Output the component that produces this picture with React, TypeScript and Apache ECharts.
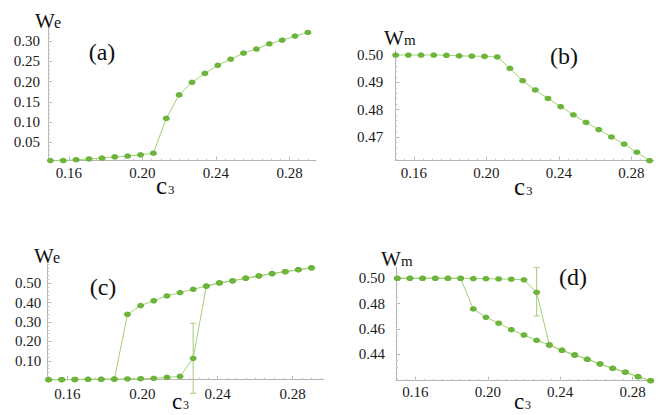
import React, { useEffect, useRef } from "react";
import * as echarts from "echarts";

// ---- data ----
const c3 = [0.150, 0.157, 0.164, 0.171, 0.178, 0.185, 0.192, 0.199, 0.206, 0.213, 0.220,
  0.227, 0.234, 0.241, 0.248, 0.255, 0.262, 0.269, 0.276, 0.283, 0.290];

// (a) We vs c3
const aWe = [0.005, 0.005, 0.007, 0.009, 0.011, 0.014, 0.016, 0.019, 0.023, 0.109, 0.167,
  0.198, 0.220, 0.240, 0.255, 0.270, 0.280, 0.293, 0.302, 0.312, 0.321];

// (b) Wm vs c3
const bWm = [0.5000, 0.5000, 0.5000, 0.5000, 0.4999, 0.4997, 0.4996, 0.4995, 0.4993, 0.4951,
  0.4906, 0.4872, 0.4841, 0.4811, 0.4781, 0.4753, 0.4727, 0.4700, 0.4674, 0.4644, 0.4613];

// (c) We: lower branch (c3 index 0..11), upper branch (c3 index 6..20)
const cWeLower = [0.003, 0.003, 0.004, 0.005, 0.005, 0.006, 0.007, 0.008, 0.010, 0.015, 0.020, 0.113];
const cWeUpper = [0.340, 0.385, 0.410, 0.435, 0.452, 0.469, 0.486, 0.502, 0.513, 0.526, 0.538,
  0.550, 0.560, 0.570, 0.580];
const cWeErr = [0.227, -0.067, 0.294]; // x, low, high

// (d) Wm: upper branch (c3 index 0..11), lower branch (c3 index 6..20)
const dWmUpper = [0.5000, 0.5000, 0.5000, 0.5000, 0.5000, 0.5000, 0.4998, 0.4997, 0.4995,
  0.4993, 0.4988, 0.4889];
const dWmLower = [0.4758, 0.4692, 0.4645, 0.4594, 0.4552, 0.4510, 0.4473, 0.4431, 0.4394,
  0.4360, 0.4323, 0.4289, 0.4258, 0.4223, 0.4191];
const dWmErr = [0.227, 0.4702, 0.5084];

// tick labels
const xTicks = [0.16, 0.20, 0.24, 0.28];
const aYTicks = [0.05, 0.10, 0.15, 0.20, 0.25, 0.30];
const bYTicks = [0.47, 0.48, 0.49, 0.50];
const cYTicks = [0.10, 0.20, 0.30, 0.40, 0.50];
const dYTicks = [0.44, 0.46, 0.48, 0.50];

const FONT = "Liberation Serif";
const AXIS = "#b4b4b4";
const DOT = "#6cb43c";
const LINE = "#a3d172";
const ERR = "#a9c77e";

const zip = (xs: number[], ys: number[]) => xs.map((x, i) => [x, ys[i]]);

const range = (a: number, b: number, s: number) => {
  const out: number[] = [];
  for (let v = a; v <= b + 1e-9; v += s) out.push(Math.round(v * 10000) / 10000);
  return out;
};

function mainAxis(gridIndex: number, min: number, max: number, ticks: number[], margin: number, pos: string) {
  return {
    type: "value", gridIndex, min, max, position: pos,
    axisLine: { show: true, onZero: false, lineStyle: { color: AXIS, width: 1 } },
    axisTick: { show: true, inside: true, length: 4, customValues: ticks, lineStyle: { color: AXIS } },
    axisLabel: {
      customValues: ticks, margin,
      formatter: (v: number) => v.toFixed(2),
      fontFamily: FONT, fontSize: 15, color: "#1a1a1a",
    },
    splitLine: { show: false },
  };
}
function minorAxis(gridIndex: number, min: number, max: number, ticks: number[], pos: string) {
  return {
    type: "value", gridIndex, min, max, position: pos,
    axisLine: { show: false, onZero: false },
    axisTick: { show: true, inside: true, length: 2, customValues: ticks, lineStyle: { color: "#c6c6c6" } },
    axisLabel: { show: false },
    splitLine: { show: false },
  };
}

function lineSeries(xi: number, yi: number, data: number[][]) {
  return {
    type: "line", xAxisIndex: xi, yAxisIndex: yi, data,
    symbol: "circle", symbolSize: [7, 5.5], showSymbol: true, clip: false, z: 3,
    itemStyle: { color: DOT },
    lineStyle: { color: LINE, width: 1 },
  };
}
function errSeries(xi: number, yi: number, e: number[]) {
  return {
    type: "custom", xAxisIndex: xi, yAxisIndex: yi, data: [e], clip: false, z: 2,
    encode: { x: 0, y: [1, 2] },
    renderItem: (_p: any, api: any) => {
      const x = api.value(0), lo = api.value(1), hi = api.value(2);
      const p1 = api.coord([x, hi]);
      const p2 = api.coord([x, lo]);
      const cw = 3;
      const st = { stroke: ERR, lineWidth: 1 };
      return {
        type: "group",
        children: [
          { type: "line", shape: { x1: p1[0], y1: p1[1], x2: p2[0], y2: p2[1] }, style: st },
          { type: "line", shape: { x1: p1[0] - cw, y1: p1[1], x2: p1[0] + cw, y2: p1[1] }, style: st },
          { type: "line", shape: { x1: p2[0] - cw, y1: p2[1], x2: p2[0] + cw, y2: p2[1] }, style: st },
        ],
      };
    },
  };
}

function txt(text: string, x: number, baseline: number, size: number, lh?: number) {
  return {
    type: "text", x, y: baseline - 0.34 * size,
    style: {
      text, fontFamily: FONT, fontSize: size, fill: "#111", align: "left", verticalAlign: "middle",
      lineHeight: lh ?? size,
    },
  };
}
function label(text: string, cx: number, cy: number) {
  return {
    type: "text", x: cx, y: cy,
    style: { text, fontFamily: FONT, fontSize: 24, fill: "#111", align: "center", verticalAlign: "middle" },
  };
}

export default function App() {
  const ref = useRef<HTMLDivElement>(null);
  useEffect(() => {
    if (!ref.current) return;
    const chart = echarts.init(ref.current, undefined, { renderer: "svg" });

    // panel layouts
    const P = [
      { left: 48, top: 28, width: 268, height: 132.7, xmin: 0.1487, xmax: 0.2944, ymin: 0.0046, ymax: 0.332, yt: aYTicks, ym: range(0.01, 0.33, 0.01), xm: 5, ymg: 8 },
      { left: 395.3, top: 50.1, width: 258.4, height: 110.6, xmin: 0.1498, xmax: 0.2923, ymin: 0.4613, ymax: 0.5018, yt: bYTicks, ym: range(0.462, 0.5, 0.002), xm: 5, ymg: 12 },
      { left: 47.3, top: 263.9, width: 276, height: 115.8, xmin: 0.1493, xmax: 0.2963, ymin: 0.003, ymax: 0.6, yt: cYTicks, ym: range(0.02, 0.6, 0.02), xm: 7, ymg: 6 },
      { left: 396, top: 266.9, width: 255.6, height: 113.8, xmin: 0.1493, xmax: 0.2905, ymin: 0.4191, ymax: 0.509, yt: dYTicks, ym: range(0.42, 0.505, 0.005), xm: 4, ymg: 11 },
    ];
    const xMinor = range(0.15, 0.295, 0.005);

    const grid = P.map((p) => ({ left: p.left, top: p.top, width: p.width, height: p.height, containLabel: false }));
    const xAxis: any[] = [];
    const yAxis: any[] = [];
    P.forEach((p, i) => {
      xAxis.push(mainAxis(i, p.xmin, p.xmax, xTicks, p.xm, "bottom"));
      xAxis.push(minorAxis(i, p.xmin, p.xmax, xMinor, "bottom"));
      yAxis.push(mainAxis(i, p.ymin, p.ymax, p.yt, p.ymg, "left"));
      yAxis.push(minorAxis(i, p.ymin, p.ymax, p.ym, "left"));
    });

    const cForward = zip(c3.slice(0, 12), cWeLower).concat(zip(c3.slice(12), cWeUpper.slice(6)));
    const cBackward = zip(c3.slice(0, 6), cWeLower.slice(0, 6)).concat(zip(c3.slice(6), cWeUpper));
    const dForward = zip(c3.slice(0, 12), dWmUpper).concat(zip(c3.slice(12), dWmLower.slice(6)));
    const dBackward = zip(c3.slice(0, 6), dWmUpper.slice(0, 6)).concat(zip(c3.slice(6), dWmLower));

    const series: any[] = [
      lineSeries(0, 0, zip(c3, aWe)),
      lineSeries(2, 2, zip(c3, bWm)),
      errSeries(4, 4, cWeErr),
      lineSeries(4, 4, cForward),
      lineSeries(4, 4, cBackward),
      errSeries(6, 6, dWmErr),
      lineSeries(6, 6, dForward),
      lineSeries(6, 6, dBackward),
    ];

    const graphic: any[] = [
      // y axis names
      txt("W", 35, 28, 21), txt("e", 54, 28, 16),
      txt("W", 384, 45, 21), txt("m", 404, 45, 15),
      txt("W", 34, 263, 21), txt("e", 53, 263, 16),
      txt("W", 381, 266, 21), txt("m", 401, 266, 15),
      // x axis names
      txt("c", 156, 194, 25, 12), txt("3", 168, 194, 13, 10),
      txt("c", 514, 195, 25, 12), txt("3", 526, 195, 13, 10),
      txt("c", 172, 409, 23, 12), txt("3", 183, 409, 12, 10),
      txt("c", 514, 409, 23, 12), txt("3", 525, 409, 12, 10),
      // panel labels
      label("(a)", 102, 52),
      label("(b)", 564, 56),
      label("(c)", 103, 287),
      label("(d)", 573, 277),
    ];

    chart.setOption({
      animation: false,
      backgroundColor: "#ffffff",
      grid, xAxis, yAxis, series, graphic,
    });
    return () => chart.dispose();
  }, []);

  return (
    <div
      ref={ref}
      style={{ position: "fixed", left: 0, top: 0, width: 664, height: 415, background: "#fff" }}
    />
  );
}
